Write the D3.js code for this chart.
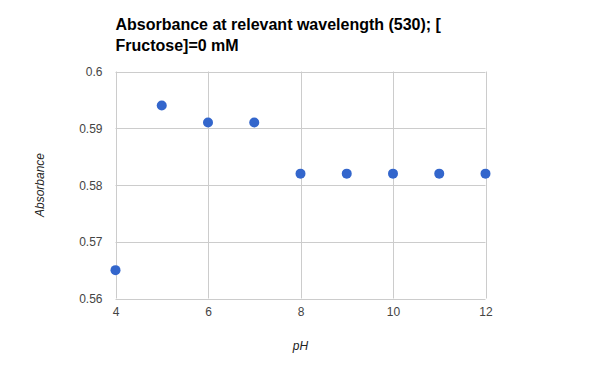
<!DOCTYPE html>
<html>
<head>
<meta charset="utf-8">
<script src="https://cdn.jsdelivr.net/npm/d3@7"></script>
<style>
  body { margin: 0; background: #fff; }
  svg { font-family: Arial, "Liberation Sans", sans-serif; }
</style>
</head>
<body>
<svg id="chart" width="600" height="371"></svg>
<script>
const phValues = [4, 5, 6, 7, 8, 9, 10, 11, 12];
const absorbance = [0.565, 0.594, 0.591, 0.591, 0.582, 0.582, 0.582, 0.582, 0.582];
const xTicks = [4, 6, 8, 10, 12];
const yTicks = [0.56, 0.57, 0.58, 0.59, 0.6];
const titleLines = ['Absorbance at relevant wavelength (530); [', 'Fructose]=0 mM'];

const svg = d3.select('#chart');
const plotLeft = 115.5, plotRight = 485.5, plotTop = 71.5, plotBottom = 298.5;

const x = d3.scaleLinear().domain([4, 12]).range([plotLeft, plotRight]);
const y = d3.scaleLinear().domain([0.56, 0.6]).range([plotBottom, plotTop]);

// grid
svg.append('g')
  .selectAll('line')
  .data(yTicks)
  .enter().append('line')
  .attr('x1', plotLeft).attr('x2', plotRight)
  .attr('y1', d => Math.round(y(d)) + 0.5).attr('y2', d => Math.round(y(d)) + 0.5)
  .attr('stroke', '#cccccc');

svg.append('g')
  .selectAll('line')
  .data(xTicks)
  .enter().append('line')
  .attr('y1', plotTop).attr('y2', plotBottom)
  .attr('x1', d => Math.round(x(d)) + 0.5).attr('x2', d => Math.round(x(d)) + 0.5)
  .attr('stroke', '#cccccc');

// axes (labels only)
const yAxis = svg.append('g')
  .attr('transform', `translate(${plotLeft - 13},0)`)
  .call(d3.axisLeft(y).tickValues(yTicks).tickSize(0).tickFormat(d3.format('')));
yAxis.select('.domain').remove();
yAxis.selectAll('text')
  .attr('fill', '#444').attr('font-size', 12).attr('dy', '0.35em').attr('x', 0);

const xAxis = svg.append('g')
  .attr('transform', `translate(0,${plotBottom + 9})`)
  .call(d3.axisBottom(x).tickValues(xTicks).tickSize(0));
xAxis.select('.domain').remove();
xAxis.selectAll('text')
  .attr('fill', '#444').attr('font-size', 12).attr('dy', '0.71em').attr('y', 0);

// points
svg.append('g')
  .selectAll('circle')
  .data(phValues)
  .enter().append('circle')
  .attr('cx', d => x(d))
  .attr('cy', (d, i) => y(absorbance[i]))
  .attr('r', 5)
  .attr('fill', '#3366cc');

// title
svg.append('text')
  .attr('x', plotLeft).attr('y', 30)
  .attr('font-size', 16).attr('font-weight', 'bold').attr('fill', '#000')
  .selectAll('tspan')
  .data(titleLines)
  .enter().append('tspan')
  .attr('x', plotLeft)
  .attr('dy', (d, i) => i === 0 ? 0 : 21)
  .text(d => d);

// axis titles
svg.append('text')
  .attr('x', (plotLeft + plotRight) / 2).attr('y', 350)
  .attr('text-anchor', 'middle')
  .attr('font-size', 12).attr('font-style', 'italic').attr('fill', '#222')
  .text('pH');

svg.append('text')
  .attr('transform', `translate(44,${(plotTop + plotBottom) / 2}) rotate(-90)`)
  .attr('text-anchor', 'middle')
  .attr('font-size', 12).attr('font-style', 'italic').attr('fill', '#222')
  .text('Absorbance');
</script>
</body>
</html>
